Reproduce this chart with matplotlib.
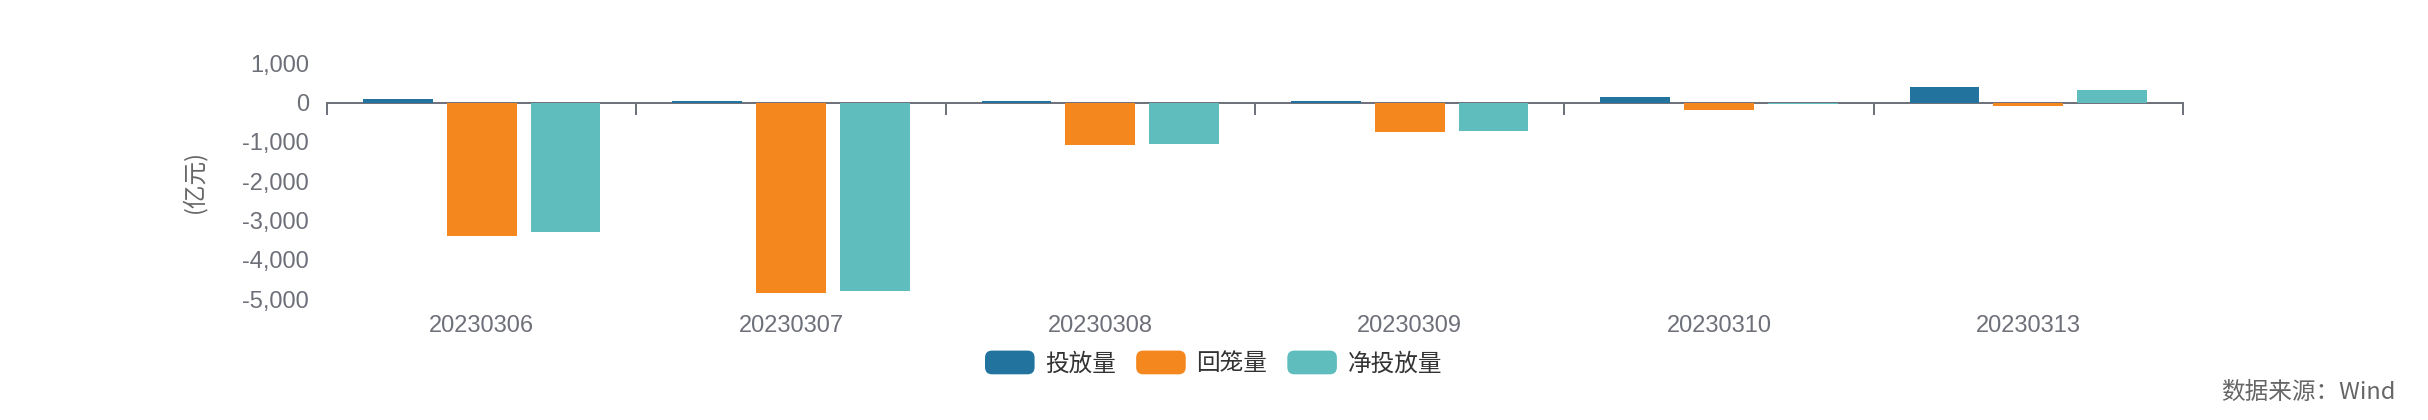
import numpy as np
import matplotlib
matplotlib.use("Agg")
import matplotlib.pyplot as plt
from matplotlib.patches import FancyBboxPatch, Patch
from matplotlib.legend_handler import HandlerPatch
from matplotlib.ticker import FuncFormatter

# Open-market operations by day (unit: 100 million yuan)
dates = ["20230306", "20230307", "20230308", "20230309", "20230310", "20230313"]
injection = [80, 30, 40, 30, 140, 390]          # 投放量
withdrawal = [-3380, -4830, -1080, -740, -180, -80]  # 回笼量
net_injection = [-3300, -4800, -1040, -710, -40, 310]  # 净投放量

series_names = ["投放量", "回笼量", "净投放量"]
series_colors = ["#22749F", "#F5871F", "#5FBDBE"]
y_ticks = [1000, 0, -1000, -2000, -3000, -4000, -5000]

plt.rcParams["font.family"] = ["Liberation Sans", "Noto Sans CJK SC", "DejaVu Sans"]
plt.rcParams["axes.unicode_minus"] = False

AXIS_GRAY = "#6E7079"
TEXT_GRAY = "#666666"
FS = 17

fig = plt.figure(figsize=(24.28, 4.2), dpi=100)
ax = fig.add_axes([0.1347, 0.2874, 0.7644, 0.5619])

x = np.arange(len(dates))
bar_w = 0.226
step = 0.271
for i, (vals, color) in enumerate(zip([injection, withdrawal, net_injection], series_colors)):
    ax.bar(x + (i - 1) * step, vals, width=bar_w, color=color, zorder=2)

ax.set_xlim(-0.5, len(dates) - 0.5)
ax.set_ylim(-5000, 1000)
ax.set_yticks(y_ticks)
ax.yaxis.set_major_formatter(FuncFormatter(lambda v, p: f"{int(v):,}"))
ax.tick_params(axis="y", length=0, pad=13, labelsize=FS, labelcolor=AXIS_GRAY)

ax.set_xticks(x)
ax.set_xticklabels(dates)
ax.tick_params(axis="x", length=0, pad=11, labelsize=FS, labelcolor=AXIS_GRAY)

for s in ax.spines.values():
    s.set_visible(False)

# zero line with category-boundary ticks
zero_axis = ax.secondary_xaxis(0, transform=ax.transData)
zero_axis.set_xticks(np.arange(-0.5, len(dates), 1.0))
zero_axis.tick_params(axis="x", length=8.6, width=1.4, color=AXIS_GRAY,
                      labelbottom=False, direction="out")
zero_axis.spines["bottom"].set_color(AXIS_GRAY)
zero_axis.spines["bottom"].set_linewidth(1.4)

ax.set_ylabel("(亿元)", fontsize=FS, color=TEXT_GRAY,
              family=["Noto Sans CJK SC", "DejaVu Sans"], labelpad=0)
ax.yaxis.set_label_coords(-0.065, 0.5)


class RoundHandler(HandlerPatch):
    def create_artists(self, legend, orig_handle, xdescent, ydescent,
                       width, height, fontsize, trans):
        p = FancyBboxPatch((-xdescent, -ydescent), width, height,
                           boxstyle=f"round,pad=0,rounding_size={height * 0.3}",
                           facecolor=orig_handle.get_facecolor(),
                           edgecolor="none", transform=trans)
        return [p]


handles = [Patch(facecolor=c, label=n) for c, n in zip(series_colors, series_names)]
leg = fig.legend(handles=handles, loc="center", bbox_to_anchor=(0.4998, 0.1357),
                 ncol=3, frameon=False, handlelength=2.1, handleheight=1.17,
                 handletextpad=0.45, columnspacing=0.85,
                 prop={"family": ["Noto Sans CJK SC", "DejaVu Sans"], "size": FS},
                 handler_map={Patch: RoundHandler()})
for t in leg.get_texts():
    t.set_color("#333333")

fig.text(2395 / 2428, 1 - 392 / 420, "数据来源：Wind", ha="right", va="center",
         fontsize=FS, color=TEXT_GRAY, family=["Noto Sans CJK SC", "DejaVu Sans"])

fig.savefig("out.png", dpi=100)
